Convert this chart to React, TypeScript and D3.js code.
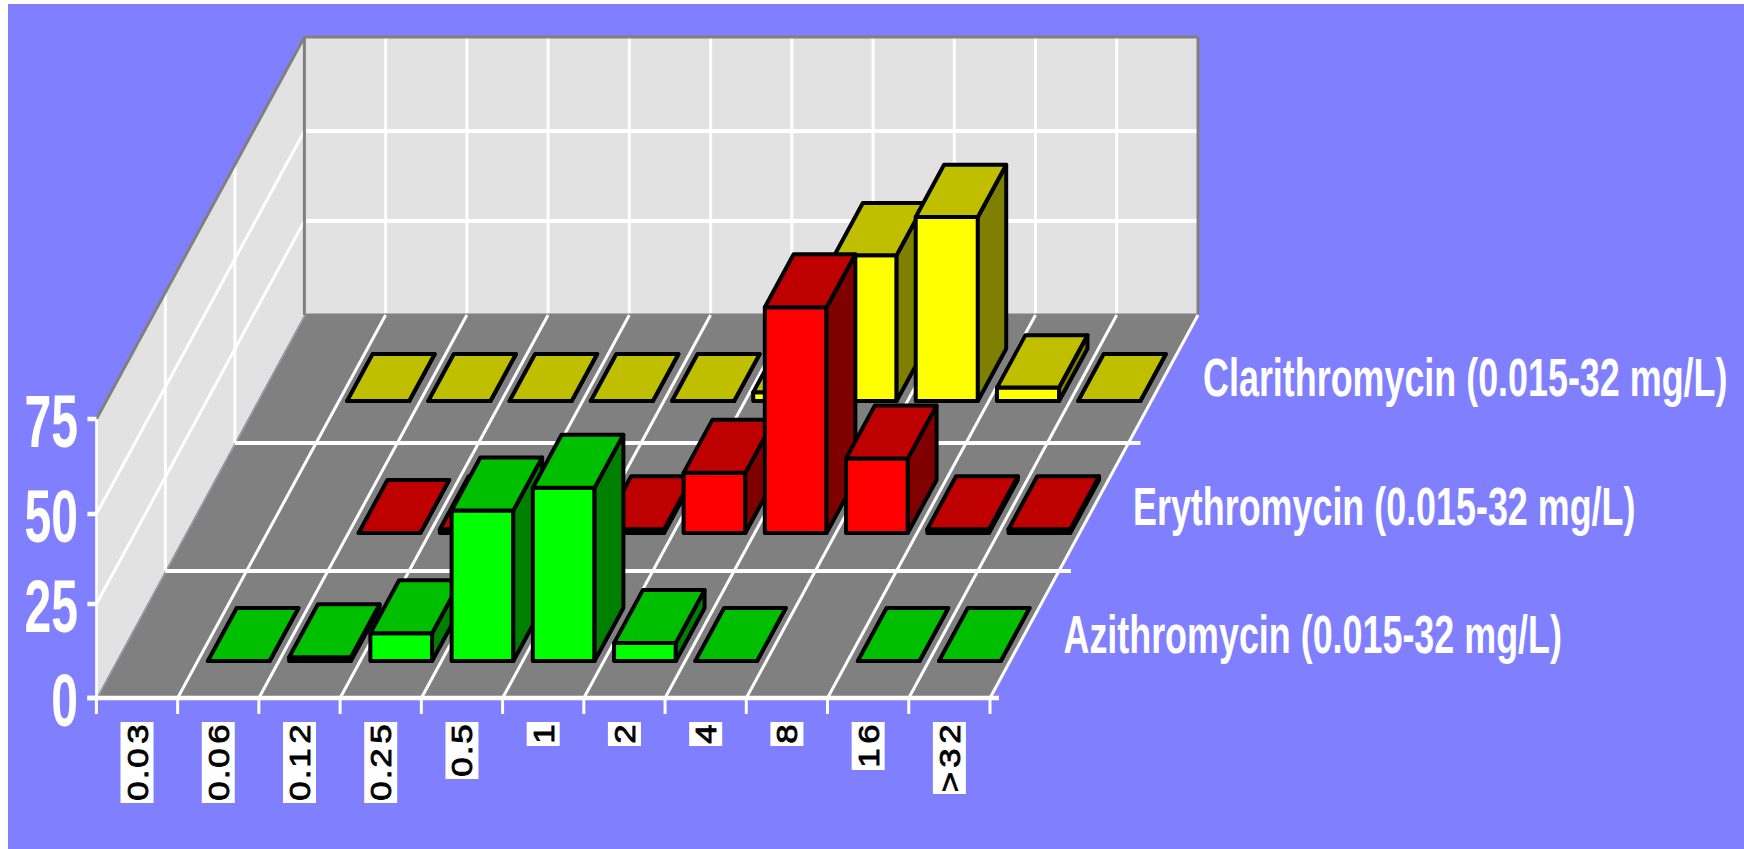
import * as d3 from "d3";

// categories along the front of the floor, series from back row to front row
const categories = ["0.03", "0.06", "0.12", "0.25", "0.5", "1", "2", "4", "8", "16", ">32"];
const seriesNames = [
  "Clarithromycin (0.015-32 mg/L)",
  "Erythromycin (0.015-32 mg/L)",
  "Azithromycin (0.015-32 mg/L)",
];
const yTicks = [0, 25, 50, 75];

// null = no bar drawn for that category
const clarithromycin = [null, 0, 0, 0, 0, 0, 2.3, 39.4, 50, 3.6, 0];
const erythromycin = [null, null, 0, 1, 0, 1, 16, 61, 19.8, 1, 1];
const azithromycin = [null, 0, 1, 7.4, 40.7, 47, 4.8, 0, null, 0, 0];

const barColors = [
  { front: "#ffff00", top: "#bfbf00", side: "#808000" },
  { front: "#ff0000", top: "#bf0000", side: "#800000" },
  { front: "#00ff00", top: "#00bf00", side: "#008000" },
];

const WIDTH = 1744;
const HEIGHT = 849;
const left = 96.4;
const right = 990;
const floorFront = 698;
const floorBack = 315;
const shear = 208 / (floorFront - floorBack);

const x = d3.scaleLinear().domain([0, categories.length]).range([left, right]);
// depth in rows, measured from the front edge of the floor
const depthY = d3
  .scaleLinear()
  .domain([0, 0.3, 0.7, 1, 1.3, 1.7, 2, 2.3, 2.7, 3])
  .range([floorFront, 661, 608, 571, 533, 480, 443, 401, 354, floorBack]);
const barHeight = d3.scaleLinear().domain(yTicks).range([0, 94, 184, 279]);

const project = (cat: number, depth: number, value = 0): [number, number] => {
  const y0 = depthY(depth);
  return [x(cat) + (floorFront - y0) * shear, y0 - barHeight(value)];
};

const poly = (pts: [number, number][]) => d3.line()(pts) + "Z";
const seg = (a: [number, number], b: [number, number]) => d3.line()([a, b]) as string;

const Bar = ({ cat, row, value }: { cat: number; row: number; value: number }) => {
  const depth = 2 - row;
  const colors = barColors[row];
  // back row sits a little further left, and its real bars are a bit deeper than the flat ones
  const x0 = cat + (row === 0 ? 0.1 : 0.125);
  const x1 = cat + (row === 0 ? 0.865 : 0.885);
  const d0 = depth + 0.3;
  const d1 = depth + (row === 0 && value > 0 ? 0.74 : 0.7);
  const frontFace = poly([project(x0, d0), project(x1, d0), project(x1, d0, value), project(x0, d0, value)]);
  const topFace = poly([project(x0, d0, value), project(x1, d0, value), project(x1, d1, value), project(x0, d1, value)]);
  const sideFace = poly([project(x1, d0), project(x1, d1), project(x1, d1, value), project(x1, d0, value)]);
  return (
    <g stroke="#000" strokeWidth={4} strokeLinejoin="round">
      <path d={frontFace} fill={colors.front} />
      <path d={sideFace} fill={colors.side} />
      <path d={topFace} fill={colors.top} />
    </g>
  );
};

// the x labels are rotated bitmap text: digits are wide, the dot is narrow
const CategoryLabel = ({ label, cat }: { label: string; cat: number }) => {
  const stretch = 1.2;
  const advances = label.split("").map((c) => (c === "." ? 9 : 24));
  const total = d3.sum(advances);
  const centres = advances.map((a, i) => (d3.sum(advances.slice(0, i)) + a / 2) / stretch);
  const cx = x(cat + 0.5);
  return (
    <g transform={`translate(${cx},${722 + total}) rotate(-90)`}>
      <rect x={0} y={-16.5} width={total} height={33} fill="#fff" />
      <text
        transform={`scale(${stretch},1)`}
        x={centres.join(" ")}
        y={10.5}
        textAnchor="middle"
        fontFamily="'Liberation Sans', sans-serif"
        fontSize={29}
        fill="#000"
        stroke="#000"
        strokeWidth={0.8}
      >
        {label}
      </text>
    </g>
  );
};

export default function App() {
  const rows = [clarithromycin, erythromycin, azithromycin];
  const n = categories.length;
  const wallTop = floorBack - 278;
  const frontTop = floorFront - barHeight(75);
  const backLeft = project(0, 3);
  const backRight = project(n, 3);
  const backTopLeft: [number, number] = [backLeft[0], wallTop];
  const backTopRight: [number, number] = [backRight[0], wallTop];
  const frontTopLeft: [number, number] = [left, frontTop];

  return (
    <svg
      width={WIDTH}
      height={HEIGHT}
      style={{ position: "absolute", left: 0, top: 0, display: "block" }}
    >
      <rect x={8} y={4} width={WIDTH - 8} height={HEIGHT - 4} fill="#8080ff" />

      {/* walls */}
      <path d={poly([[left, floorFront], frontTopLeft, backTopLeft, backLeft])} fill="#e2e2e2" />
      <path d={poly([backLeft, backTopLeft, backTopRight, backRight])} fill="#e2e2e2" />
      {/* floor */}
      <path d={poly([[left, floorFront], [right, floorFront], backRight, backLeft])} fill="#808080" />

      <g stroke="#fff" strokeWidth={3} fill="none">
        {/* back wall grid */}
        {d3.range(1, n).map((i) => (
          <path key={i} d={seg(project(i, 3), [project(i, 3)[0], wallTop])} />
        ))}
        {yTicks.slice(1, -1).map((t) => (
          <path key={t} strokeWidth={4} d={seg(project(0, 3, t), project(n, 3, t))} />
        ))}
        {/* left wall grid */}
        {yTicks.slice(1, -1).map((t) => (
          <path key={t} d={seg(project(0, 0, t), project(0, 3, t))} />
        ))}
        {[1, 2].map((r) => {
          const p = project(0, r);
          const topY = frontTop + ((p[0] - left) / (backLeft[0] - left)) * (wallTop - frontTop);
          return <path key={r} d={seg(p, [p[0], topY])} />;
        })}
      </g>

      {/* wall frame */}
      <g stroke="#808080" strokeWidth={3} fill="none">
        <path d={seg(frontTopLeft, backTopLeft)} />
        <path d={seg(backTopLeft, backTopRight)} />
        <path d={seg(backTopLeft, backLeft)} />
        <path d={seg(backTopRight, backRight)} />
        <path d={seg(backLeft, backRight)} />
      </g>

      {/* floor grid */}
      <path d={seg([left + 1, floorFront], [backLeft[0] + 1, floorBack])} stroke="#a8a8a8" strokeWidth={1} />
      <g stroke="#fff" fill="none">
        {d3.range(1, n + 1).map((i) => (
          <path key={i} strokeWidth={3} d={seg(project(i, 0), project(i, 3))} />
        ))}
        {[1, 2].map((r) => (
          <path
            key={r}
            strokeWidth={4}
            d={seg(project(0, r), [project(n, r)[0] + 12, project(n, r)[1]])}
          />
        ))}
      </g>

      {/* axes */}
      <g stroke="#fff" fill="none">
        <path strokeWidth={2.5} d={seg([left, floorFront], frontTopLeft)} />
        <path strokeWidth={4.5} d={seg([left - 9, floorFront], [right + 9, floorFront])} />
        {d3.range(0, n + 1).map((i) => (
          <path key={i} strokeWidth={3} d={seg([x(i), floorFront], [x(i), floorFront + 16])} />
        ))}
        {yTicks.map((t) => (
          <path key={t} strokeWidth={4.5} d={seg([left - 9, floorFront - barHeight(t)], [left, floorFront - barHeight(t)])} />
        ))}
      </g>

      {/* bars, back row first, left to right */}
      {rows.map((values, row) =>
        values.map((v, cat) =>
          v === null ? null : <Bar key={`${row}-${cat}`} cat={cat} row={row} value={v} />
        )
      )}

      {categories.map((c, i) => (
        <CategoryLabel key={c} label={c} cat={i} />
      ))}

      {yTicks.map((t) => (
        <text
          key={t}
          transform={`translate(78,${floorFront - barHeight(t) + 28}) scale(0.65,1)`}
          textAnchor="end"
          fontFamily="'Liberation Sans', sans-serif"
          fontWeight="bold"
          fontSize={74}
          fill="#fff"
        >
          {t}
        </text>
      ))}

      {seriesNames.map((name, row) => {
        const p = project(n, 2 - row + 0.5);
        return (
          <text
            key={name}
            transform={`translate(${p[0] + 39},${p[1] + 18}) scale(0.677,1)`}
            fontFamily="'Liberation Sans', sans-serif"
            fontWeight="bold"
            fontSize={53}
            fill="#fff"
          >
            {name}
          </text>
        );
      })}
    </svg>
  );
}
